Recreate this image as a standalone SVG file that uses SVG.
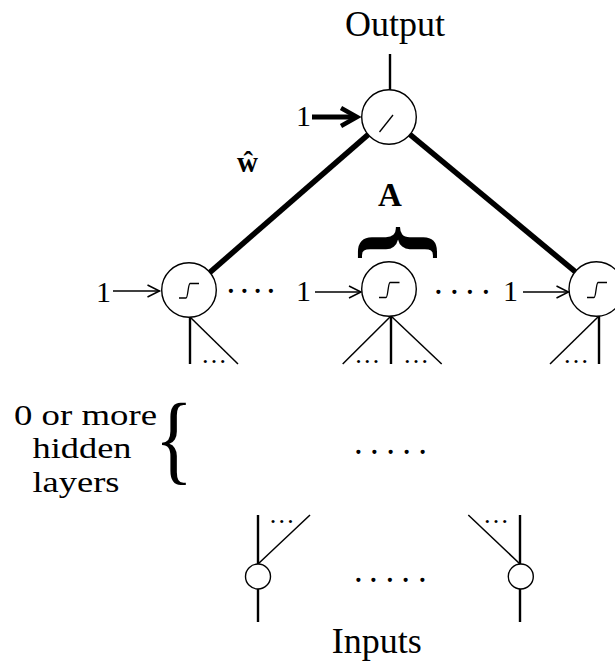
<svg xmlns="http://www.w3.org/2000/svg" width="615" height="662" viewBox="0 0 615 662">
  <style>
    text { font-family: "Liberation Serif", "Times New Roman", serif; fill: #000; }
    .node { fill: #fff; stroke: #000; stroke-width: 1.4; }
    .fn { fill: none; stroke: #000; stroke-width: 1.3; }
    .thin { fill: none; stroke: #000; stroke-width: 1.5; }
    .stem { fill: none; stroke: #000; stroke-width: 2.4; }
    .weight { fill: none; stroke: #000; stroke-width: 5.5; }
    .bias { fill: none; stroke: #000; stroke-width: 1.5; marker-end: url(#open); }
    .bias-bold { fill: none; stroke: #000; stroke-width: 5; marker-end: url(#bold); }
    .label { font-size: 36px; }
    .note { font-size: 30px; }
    .one { font-size: 30px; text-anchor: end; }
    .dots { font-size: 35px; }
    .ell { font-size: 26px; text-anchor: middle; }
  </style>
  <defs>
    <marker id="open" viewBox="-14 -8 18 16" refX="0" refY="0" markerWidth="18" markerHeight="16"
            markerUnits="userSpaceOnUse" orient="auto">
      <path d="M-12,-6 L0,0 L-12,6" fill="none" stroke="#000" stroke-width="1.5"/>
    </marker>
    <marker id="bold" viewBox="-20 -12 30 24" refX="0" refY="0" markerWidth="30" markerHeight="24"
            markerUnits="userSpaceOnUse" orient="auto">
      <path d="M-15,-9 L1,0 L-15,9" fill="none" stroke="#000" stroke-width="4.5" stroke-miterlimit="10"/>
    </marker>
  </defs>

  <!-- titles -->
  <text class="label" x="395" y="36" text-anchor="middle">Output</text>
  <text class="label" x="376.7" y="653" text-anchor="middle">Inputs</text>

  <!-- connectors -->
  <g id="connectors">
    <!-- output stem -->
    <line class="stem" x1="390" y1="54" x2="390" y2="90"/>
    <!-- output bias -->
    <line class="bias-bold" x1="312" y1="117" x2="356" y2="117"/>
    <!-- weighted links to the last hidden layer -->
    <line class="weight" x1="368.4" y1="134.4" x2="209.6" y2="272.6"/>
    <line class="weight" x1="409.8" y1="134.3" x2="575.2" y2="271.7"/>
    <!-- hidden biases -->
    <line class="bias" x1="113" y1="291" x2="159.5" y2="291"/>
    <line class="bias" x1="315" y1="292" x2="361" y2="292"/>
    <line class="bias" x1="523" y1="292" x2="568.5" y2="292"/>
    <!-- fan-in below hidden units -->
    <line class="stem" x1="190" y1="317" x2="190" y2="364"/>
    <line class="thin" x1="190" y1="317" x2="238" y2="364"/>
    <line class="thin" x1="391" y1="316" x2="342.7" y2="364"/>
    <line class="stem" x1="391" y1="316" x2="391" y2="364"/>
    <line class="thin" x1="391" y1="316" x2="441.7" y2="364"/>
    <line class="thin" x1="599" y1="316" x2="550" y2="364"/>
    <line class="stem" x1="599" y1="316" x2="599" y2="364"/>
    <!-- fan-out above inputs -->
    <line class="stem" x1="258" y1="515" x2="258" y2="564"/>
    <line class="thin" x1="258" y1="564" x2="310" y2="515"/>
    <line class="stem" x1="520" y1="515" x2="520" y2="564"/>
    <line class="thin" x1="520" y1="564" x2="468.3" y2="515"/>
    <!-- input stems -->
    <line class="stem" x1="258" y1="589" x2="258" y2="622"/>
    <line class="stem" x1="520" y1="589" x2="520" y2="622"/>
  </g>

  <!-- output unit (linear) -->
  <g id="output-unit">
    <circle class="node" cx="389" cy="117" r="27.3"/>
    <line class="fn" x1="379.5" y1="132" x2="393" y2="115"/>
    <text class="one" x="311" y="126">1</text>
  </g>

  <!-- weight label -->
  <text id="w-hat" x="247.5" y="172" font-size="29" font-weight="bold" text-anchor="middle">ŵ</text>

  <!-- A bracket over the middle hidden unit -->
  <g id="a-label">
    <text x="390" y="206" font-size="33" font-weight="bold" text-anchor="middle">A</text>
    <text transform="translate(394.7,243) rotate(90)" x="0" y="24" font-size="96" font-weight="bold" text-anchor="middle">{</text>
  </g>

  <!-- hidden units (sigmoid) -->
  <g id="hidden-left">
    <circle class="node" cx="189" cy="290" r="27.3"/>
    <path class="fn" d="M179,298 H186 C188,298 188,284 190,283.5 H199"/>
    <text class="one" x="111" y="301.7">1</text>
    <text class="ell" x="214" y="363.2">…</text>
  </g>
  <g id="hidden-mid">
    <circle class="node" cx="389" cy="289" r="27.3"/>
    <path class="fn" d="M379,297.5 H386 C388,297.5 388,283 390,282.5 H399.5"/>
    <text class="one" x="311" y="301">1</text>
    <text class="ell" x="367.2" y="363.2">…</text>
    <text class="ell" x="416" y="363.2">…</text>
  </g>
  <g id="hidden-right">
    <circle class="node" cx="596.3" cy="289" r="27.3"/>
    <path class="fn" d="M587,297.5 H594 C596,297.5 596,283 598,282.5 H607"/>
    <text class="one" x="518" y="300.5">1</text>
    <text class="ell" x="576" y="363.2">…</text>
  </g>

  <!-- ellipses between units -->
  <text class="dots" x="226.6 239.9 253.3 266.6" y="293.3">....</text>
  <text class="dots" x="433.9 449.9 465.6 481.6" y="294.3">....</text>
  <text class="dots" x="353.9 369.9 386.3 402.3 418.3" y="454">.....</text>
  <text class="dots" x="353.9 368.9 385.6 401.3 417.9" y="581.6">.....</text>

  <!-- hidden layer note -->
  <g id="hidden-note">
    <text class="note" x="14" y="424.5" textLength="143" lengthAdjust="spacingAndGlyphs">0 or more</text>
    <text class="note" x="32.5" y="458" textLength="99" lengthAdjust="spacingAndGlyphs">hidden</text>
    <text class="note" x="32.5" y="491.5" textLength="87" lengthAdjust="spacingAndGlyphs">layers</text>
    <text transform="translate(174,0) scale(0.85,1.05)" x="0" y="450" font-size="94" text-anchor="middle">{</text>
  </g>

  <!-- input units -->
  <g id="input-left">
    <circle class="node" cx="258" cy="576.5" r="12.5"/>
    <text class="ell" x="281.7" y="523">…</text>
  </g>
  <g id="input-right">
    <circle class="node" cx="520.8" cy="576.5" r="12.5"/>
    <text class="ell" x="496" y="523">…</text>
  </g>
</svg>
